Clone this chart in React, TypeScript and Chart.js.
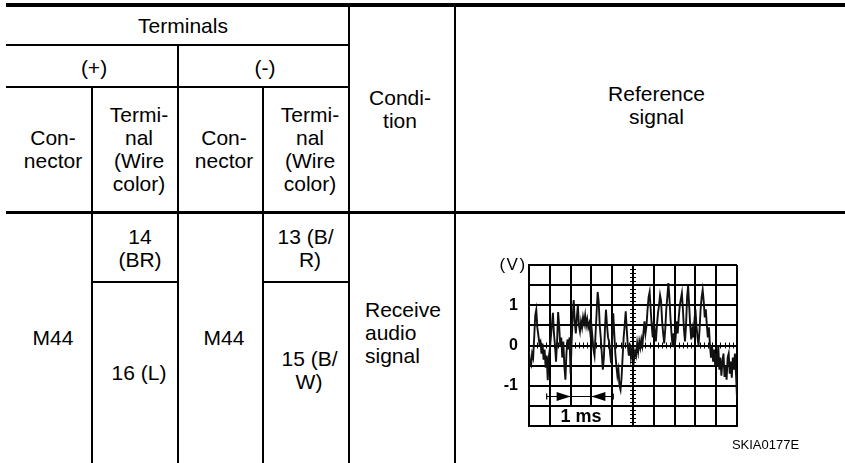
import React, { useEffect, useRef } from 'react';
import { Chart, registerables } from 'chart.js';

Chart.register(...registerables);

// ---- Oscilloscope trace (volts), one sample every 0.05 ms, per 1 ms division ----
const SAMPLE_STEP_MS = 0.05;
const TRACE_MS0 = [-0.15, -0.45, -0.5, -0.2, -0.3, 0.2, 0.75, 0.89, 0.45, 0.25, 0.05, 0.1, -0.2, 0.05, -0.35, -0.1, -0.55, -0.25, -0.86, -0.3];
const TRACE_MS1 = [-0.1, 0.2, 0.5, 0.81, 0.3, 0.0, -0.4, 0.1, 0.83, 0.5, 0.0, 0.2, -0.3, 0.1, -0.5, -0.85, -0.2, 0.15, -0.1, 0.2];
const TRACE_MS2 = [-0.7, 0.1, 0.7, 1.13, 0.6, 0.3, 0.7, 1.0, 0.5, 0.35, 0.6, 0.45, 0.7, 0.55, 0.75, 0.5, 0.65, 0.45, 0.55, 0.3];
const TRACE_MS3 = [0.5, 0.2, -0.1, -0.25, 0.3, 0.8, 1.33, 1.1, 0.5, 0.2, -0.2, -0.6, -0.3, 0.4, 0.89, 0.5, 0.2, 0.1, -0.2, -0.44];
const TRACE_MS4 = [0.2, 0.8, 0.3, -0.2, -0.5, -0.75, -0.6, -1.0, -1.1, -0.8, -0.3, 0.2, 0.5, 0.85, 0.4, 0.0, -0.25, 0.05, -0.3, -0.1];
const TRACE_MS5 = [-0.2, -0.35, -0.15, -0.25, 0.05, -0.15, 0.1, -0.05, 0.15, 0.0, 0.3, 0.6, 0.3, 0.5, 0.9, 1.2, 1.33, 0.9, 0.5, 0.2];
const TRACE_MS6 = [0.6, 0.35, 0.1, 0.5, 0.8, 1.0, 1.25, 1.1, 0.6, 0.3, 0.05, 0.4, 0.9, 1.2, 1.55, 1.2, 0.7, 0.3, 0.0, 0.3];
const TRACE_MS7 = [-0.05, 0.2, 0.6, 0.3, 0.7, 1.0, 1.15, 1.3, 0.9, 0.4, 0.1, 0.5, 1.2, 1.48, 1.0, 0.5, 0.15, 0.4, 0.2, 0.6];
const TRACE_MS8 = [0.9, 0.5, 0.2, 0.0, 0.4, 0.9, 1.2, 1.38, 1.1, 0.7, 0.9, 0.5, 0.2, 0.45, 0.0, -0.3, 0.0, -0.4, -0.1, -0.5];
const TRACE_MS9 = [-0.2, -0.5, 0.0, -0.6, -0.3, -0.75, -0.4, -0.2, -0.78, -0.5, -0.85, -0.3, -0.2, -0.7, -0.4, -0.8, -0.3, -0.6, -0.2, -0.7];
const TRACE_END = [-1.3];

// ---- Axis settings ----
const X_MIN_MS = 0;
const X_MAX_MS = 10;
const X_DIV_MS = 1;
const Y_MIN_V = -2;
const Y_MAX_V = 2;
const Y_DIV_V = 0.5;
const Y_TICK_LABELS = ['1', '0', '-1'];
const SPAN_MARK_MS = [2, 3]; // "1 ms" dimension
const SPAN_MARK_LEVEL_V = -1.25;
const SPAN_LINE_MS = [0.85, 4.05];

const FONT = '"Liberation Sans", Arial, Helvetica, sans-serif';

// chart area target inside the canvas (canvas at page 480,240)
const AREA = { left: 49, top: 25, right: 257, bottom: 186 };
const CANVAS_W = 270;
const CANVAS_H = 200;

const pinArea = {
  id: 'pinArea',
  afterLayout(chart: any) {
    const ca = chart.chartArea;
    ca.left = AREA.left;
    ca.top = AREA.top;
    ca.right = AREA.right;
    ca.bottom = AREA.bottom;
    ca.width = AREA.right - AREA.left;
    ca.height = AREA.bottom - AREA.top;
    const x = chart.scales.x;
    const y = chart.scales.y;
    x.left = AREA.left; x.right = AREA.right; x.width = AREA.right - AREA.left;
    x.top = AREA.bottom; x.bottom = AREA.bottom; x.height = 0;
    y.top = AREA.top; y.bottom = AREA.bottom; y.height = AREA.bottom - AREA.top;
    y.left = 0; y.right = AREA.left; y.width = AREA.left;
    x.configure();
    y.configure();
  },
};

const scopeDecor = {
  id: 'scopeDecor',
  beforeDatasetsDraw(chart: any) {
    const { ctx, scales } = chart;
    const x = scales.x;
    const y = scales.y;
    const cx = x.getPixelForValue((X_MIN_MS + X_MAX_MS) / 2);
    const cy = y.getPixelForValue(0);
    ctx.save();
    ctx.strokeStyle = '#000';
    ctx.lineWidth = 1;
    ctx.beginPath();
    for (let i = 0; i <= 40; i++) {
      const py = Math.round(y.getPixelForValue(Y_MIN_V + i * 0.1)) + 0.5;
      ctx.moveTo(cx - 3, py);
      ctx.lineTo(cx + 3, py);
    }
    for (let i = 0; i <= 50; i++) {
      const px = Math.round(x.getPixelForValue(X_MIN_MS + i * 0.2)) + 0.5;
      ctx.moveTo(px, cy - 3);
      ctx.lineTo(px, cy + 3);
    }
    ctx.stroke();
    ctx.restore();
  },
  afterDatasetsDraw(chart: any) {
    const { ctx, scales } = chart;
    const x = scales.x;
    const y = scales.y;
    const ly = Math.round(y.getPixelForValue(SPAN_MARK_LEVEL_V)) + 0.5;
    const x0 = x.getPixelForValue(SPAN_LINE_MS[0]);
    const x1 = x.getPixelForValue(SPAN_LINE_MS[1]);
    const a = x.getPixelForValue(SPAN_MARK_MS[0]);
    const b = x.getPixelForValue(SPAN_MARK_MS[1]);
    ctx.save();
    ctx.strokeStyle = '#000';
    ctx.fillStyle = '#000';
    ctx.lineWidth = 1.2;
    ctx.beginPath();
    ctx.moveTo(x0, ly);
    ctx.lineTo(x1, ly);
    ctx.moveTo(x0, ly - 3);
    ctx.lineTo(x0, ly + 3);
    ctx.moveTo(x1, ly - 3);
    ctx.lineTo(x1, ly + 3);
    ctx.stroke();
    ctx.beginPath();
    ctx.moveTo(a, ly);
    ctx.lineTo(a - 14, ly - 4.5);
    ctx.lineTo(a - 14, ly + 4.5);
    ctx.closePath();
    ctx.fill();
    ctx.beginPath();
    ctx.moveTo(b, ly);
    ctx.lineTo(b + 14, ly - 4.5);
    ctx.lineTo(b + 14, ly + 4.5);
    ctx.closePath();
    ctx.fill();
    ctx.restore();
  },
};

function Scope() {
  const ref = useRef<HTMLCanvasElement | null>(null);
  useEffect(() => {
    if (!ref.current) return;
    const trace = [
      ...TRACE_MS0, ...TRACE_MS1, ...TRACE_MS2, ...TRACE_MS3, ...TRACE_MS4,
      ...TRACE_MS5, ...TRACE_MS6, ...TRACE_MS7, ...TRACE_MS8, ...TRACE_MS9, ...TRACE_END,
    ];
    const points = trace.map((v, i) => ({ x: i * SAMPLE_STEP_MS, y: v }));
    const chart = new Chart(ref.current, {
      type: 'line',
      data: {
        datasets: [
          {
            data: points,
            borderColor: '#111',
            borderWidth: 1.9,
            pointRadius: 0,
            tension: 0,
            fill: false,
          },
        ],
      },
      options: {
        animation: false,
        responsive: false,
        devicePixelRatio: 1,
        events: [],
        layout: { autoPadding: false, padding: { left: 0, top: AREA.top, right: CANVAS_W - AREA.right, bottom: CANVAS_H - AREA.bottom } },
        plugins: { legend: { display: false }, tooltip: { enabled: false } },
        scales: {
          x: {
            type: 'linear',
            min: X_MIN_MS,
            max: X_MAX_MS,
            ticks: { display: false, stepSize: X_DIV_MS, autoSkip: false },
            grid: { color: '#000', lineWidth: 2, drawTicks: false },
            border: { display: true, color: '#000', width: 2 },
            afterFit: (s: any) => { s.height = 0; },
          },
          y: {
            type: 'linear',
            min: Y_MIN_V,
            max: Y_MAX_V,
            ticks: {
              stepSize: Y_DIV_V,
              autoSkip: false,
              padding: 11,
              color: '#000',
              font: { family: FONT, size: 16, weight: 'bold' },
              callback: (v: any) => (Y_TICK_LABELS.includes(String(v)) ? String(v) : ''),
            },
            grid: { color: '#000', lineWidth: 2, drawTicks: false },
            border: { display: true, color: '#000', width: 2 },
            afterFit: (s: any) => { s.width = AREA.left; },
          },
        },
      },
      plugins: [pinArea, scopeDecor],
    } as any);
    return () => chart.destroy();
  }, []);
  return (
    <canvas
      ref={ref}
      width={CANVAS_W}
      height={CANVAS_H}
      style={{ position: 'absolute', left: 480, top: 240, width: CANVAS_W, height: CANVAS_H }}
    />
  );
}

type TxtProps = { x: number; y: number; lines: string[]; align?: 'center' | 'left'; size?: number; weight?: string; spacing?: number; lh?: number; bg?: string; w?: number; h?: number };

function Txt({ x, y, lines, align = 'center', size = 21, weight = 'normal', spacing = 0, lh = 23, bg, w, h }: TxtProps) {
  const style: React.CSSProperties = {
    position: 'absolute',
    top: y,
    left: x,
    transform: align === 'center' ? 'translate(-50%, -50%)' : 'translate(0, -50%)',
    textAlign: align,
    whiteSpace: 'nowrap',
    fontSize: size,
    fontWeight: weight as any,
    letterSpacing: spacing,
    lineHeight: lh + 'px',
    zIndex: 2,
  };
  if (bg) style.background = bg;
  if (w) style.width = w;
  if (h) { style.height = h; }
  return (
    <div style={style}>
      {lines.map((l, i) => (
        <div key={i}>{l}</div>
      ))}
    </div>
  );
}

function Line({ l, t, w, h }: { l: number; t: number; w: number; h: number }) {
  return <div style={{ position: 'absolute', left: l, top: t, width: w, height: h, background: '#000' }} />;
}

export default function App() {
  return (
    <div
      style={{
        position: 'absolute',
        left: 0,
        top: 0,
        width: 845,
        height: 463,
        overflow: 'hidden',
        background: '#fff',
        color: '#000',
        fontFamily: FONT,
      }}
    >
      {/* table rules */}
      <Line l={6} t={3} w={839} h={4} />
      <Line l={6} t={44} w={344} h={2} />
      <Line l={6} t={86} w={344} h={2} />
      <Line l={6} t={211} w={839} h={3} />
      <Line l={92} t={281} w={86} h={2} />
      <Line l={263} t={281} w={86} h={2} />
      <Line l={91} t={86} w={2} h={377} />
      <Line l={177} t={44} w={2} h={419} />
      <Line l={262} t={86} w={2} h={377} />
      <Line l={348} t={3} w={2} h={460} />
      <Line l={454} t={3} w={2} h={460} />

      {/* header */}
      <Txt x={183} y={25} lines={['Terminals']} />
      <Txt x={94} y={67} lines={['(+)']} />
      <Txt x={265} y={67} lines={['(-)']} />
      <Txt x={53} y={149} lines={['Con-', 'nector']} />
      <Txt x={139} y={149} lines={['Termi-', 'nal', '(Wire', 'color)']} />
      <Txt x={224} y={149} lines={['Con-', 'nector']} />
      <Txt x={310} y={149} lines={['Termi-', 'nal', '(Wire', 'color)']} />
      <Txt x={400} y={108.5} lines={['Condi-', 'tion']} />
      <Txt x={656.5} y={105} lines={['Reference', 'signal']} />

      {/* data row */}
      <Txt x={53} y={337} lines={['M44']} />
      <Txt x={140} y={247.5} lines={['14', '(BR)']} />
      <Txt x={224} y={337} lines={['M44']} />
      <Txt x={305.5} y={236} lines={['13 (B/']} />
      <Txt x={310} y={259} lines={['R)']} />
      <Txt x={139} y={372} lines={['16 (L)']} />
      <Txt x={309.5} y={358} lines={['15 (B/']} />
      <Txt x={309} y={381} lines={['W)']} />
      <Txt x={365} y={332} lines={['Receive', 'audio', 'signal']} align="left" />

      {/* oscilloscope */}
      <Scope />
      <Txt x={513} y={264.5} lines={['(V)']} size={17} spacing={1.5} lh={18} />
      <Txt x={581} y={416} lines={['1 ms']} size={18} weight="bold" lh={18} bg="#fff" w={54} h={18} />
      <Txt x={765.5} y={445} lines={['SKIA0177E']} size={13} lh={14} />
    </div>
  );
}
